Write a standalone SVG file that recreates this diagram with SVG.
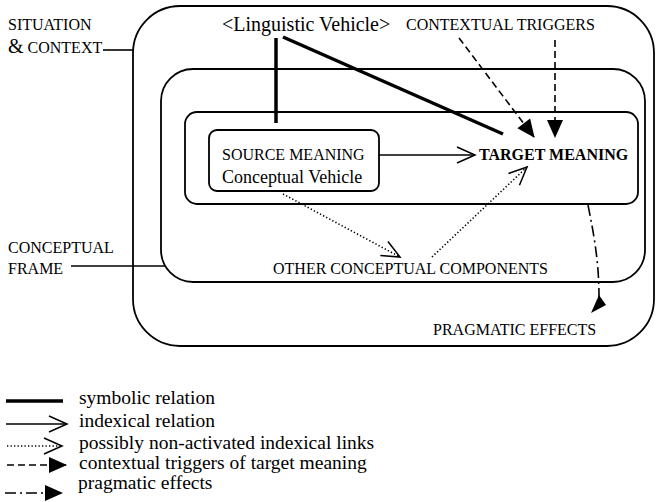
<svg xmlns="http://www.w3.org/2000/svg" width="657" height="502" viewBox="0 0 657 502">
<style>
text{font-family:"Liberation Serif","Times New Roman","DejaVu Serif",serif;fill:#000}
.sc{font-size:16px}
.box{fill:none;stroke:#000;stroke-width:1.8}
.sym{stroke:#000;stroke-width:3.5;fill:none}
.idx{stroke:#000;stroke-width:1.5;fill:none}
.dot{stroke:#000;stroke-width:1.6;fill:none;stroke-dasharray:1.3 2.2}
.dash{stroke:#000;stroke-width:1.6;fill:none;stroke-dasharray:7 4}
.dd{stroke:#000;stroke-width:1.6;fill:none;stroke-dasharray:11 4 2 4}
.lead{stroke:#000;stroke-width:1.6;fill:none}
.leg{font-size:19.5px}
</style>
<defs>
<marker id="open" markerUnits="userSpaceOnUse" markerWidth="20" markerHeight="18" viewBox="-1 -1 20 18" refX="18" refY="8" orient="auto" overflow="visible">
<path d="M0,0 L18,8 L0,16" fill="none" stroke="#000" stroke-width="1.5" stroke-dasharray="none"/>
</marker>
<marker id="fill" markerUnits="userSpaceOnUse" markerWidth="18" markerHeight="16" viewBox="0 0 18 16" refX="17" refY="8" orient="auto" overflow="visible">
<path d="M0,0 L18,8 L0,16 z" fill="#000" stroke="none"/>
</marker>
</defs>

<g id="situation-context">
<rect class="box" x="133" y="6" width="521" height="340" rx="47"/>
<text class="sc" x="8" y="30">SITUATION</text>
<text class="sc" x="8" y="53"><tspan font-size="20">&amp;</tspan> CONTEXT</text>
<line class="lead" x1="103" y1="50" x2="133" y2="50"/>
</g>

<g id="conceptual-frame">
<rect class="box" x="161" y="69" width="484" height="213" rx="32"/>
<text class="sc" x="8" y="253">CONCEPTUAL</text>
<text class="sc" x="8" y="274">FRAME</text>
<line class="lead" x1="71" y1="266" x2="165" y2="266"/>
</g>

<g id="meaning-frame">
<rect class="box" x="185" y="112" width="453" height="92" rx="12"/>
</g>

<g id="source-meaning">
<rect class="box" x="209" y="130" width="170" height="61" rx="8"/>
<text class="sc" x="222" y="160">SOURCE MEANING</text>
<text x="222" y="183" font-size="18">Conceptual Vehicle</text>
</g>

<g id="target-meaning">
<text x="479" y="160" font-size="16" font-weight="bold">TARGET MEANING</text>
</g>

<g id="linguistic-vehicle">
<text x="222" y="31" font-size="20">&lt;Linguistic Vehicle&gt;</text>
</g>

<g id="contextual-triggers">
<text class="sc" x="406" y="30">CONTEXTUAL TRIGGERS</text>
</g>

<g id="other-components">
<text class="sc" x="273" y="274">OTHER CONCEPTUAL COMPONENTS</text>
</g>

<g id="pragmatic-effects">
<text class="sc" x="433" y="335">PRAGMATIC EFFECTS</text>
</g>

<g id="connectors">
<line class="sym" x1="276" y1="38" x2="276" y2="123"/>
<line class="sym" x1="283" y1="37" x2="503" y2="134"/>
<line class="idx" x1="379" y1="155" x2="475" y2="155" marker-end="url(#open)"/>
<line class="dash" x1="459" y1="38" x2="534" y2="137" marker-end="url(#fill)"/>
<line class="dash" x1="555" y1="40" x2="555" y2="137" marker-end="url(#fill)"/>
<line class="dot" x1="283" y1="194" x2="400" y2="257" marker-end="url(#open)"/>
<line class="dot" x1="432" y1="257" x2="527" y2="167" marker-end="url(#open)"/>
<path class="dd" d="M588,205 C594,235 599,262 599,297"/>
<polygon points="599,295 591,313 606,305" fill="#000"/>
</g>

<g id="legend">
<line class="sym" x1="6" y1="401" x2="63" y2="401"/>
<text class="leg" x="79" y="404">symbolic relation</text>
<line class="idx" x1="6" y1="424" x2="67" y2="424" marker-end="url(#open)"/>
<text class="leg" x="79" y="427">indexical relation</text>
<line class="dot" x1="7" y1="446" x2="62" y2="446" marker-end="url(#open)"/>
<text class="leg" x="79" y="449">possibly non-activated indexical links</text>
<line class="dash" x1="7" y1="465" x2="66" y2="465" marker-end="url(#fill)"/>
<text class="leg" x="79" y="469">contextual triggers of target meaning</text>
<line class="dd" x1="5" y1="493" x2="62" y2="493" marker-end="url(#fill)"/>
<text class="leg" x="78" y="489">pragmatic effects</text>
</g>
</svg>
